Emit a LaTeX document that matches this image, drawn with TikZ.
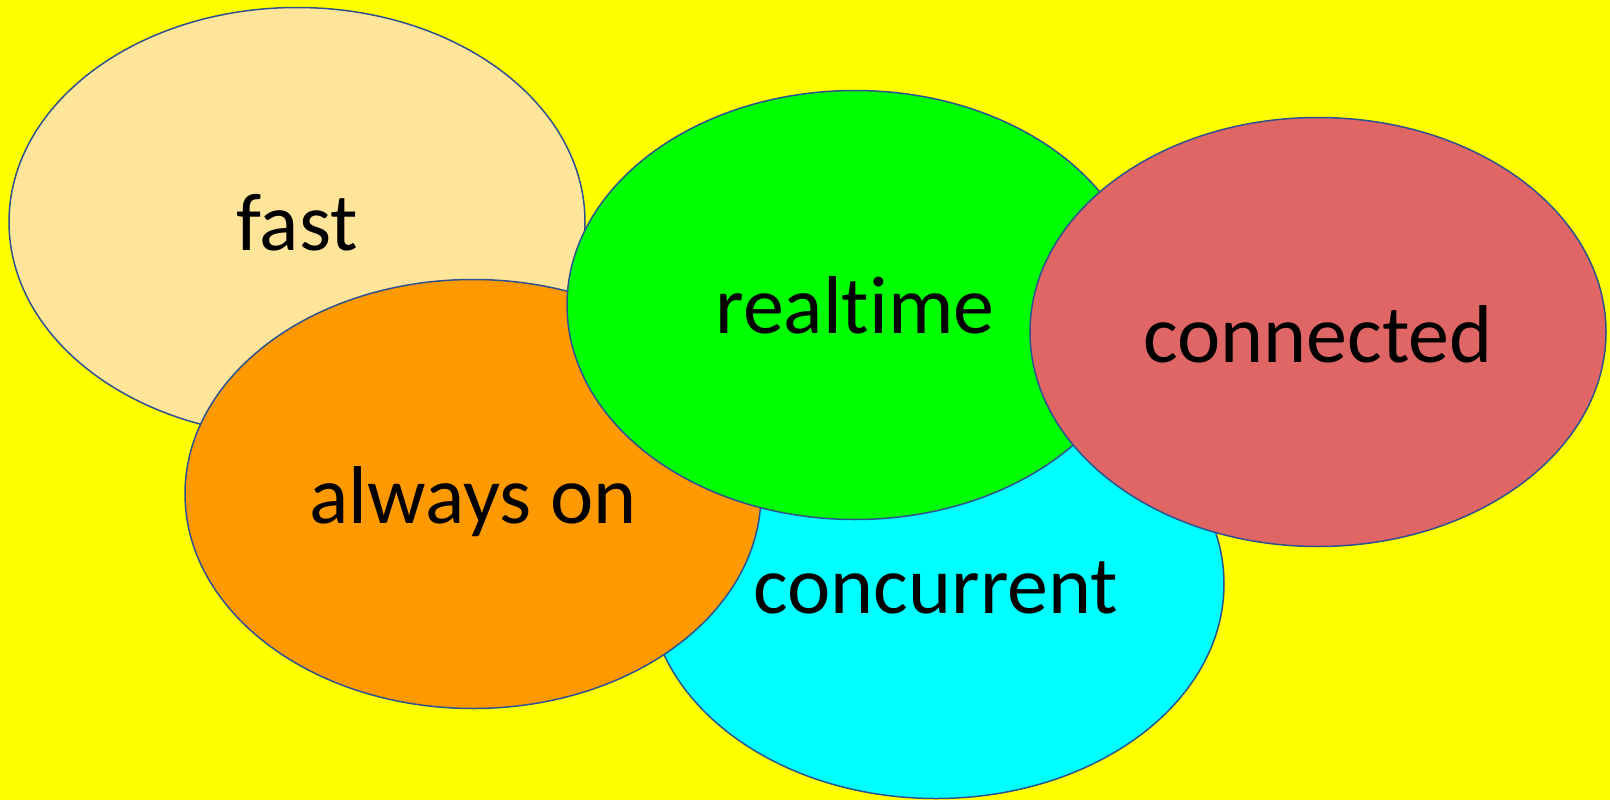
\documentclass[tikz,border=0pt]{standalone}
\usepackage{fontspec}
\setmainfont[Ligatures={NoCommon,NoRare}]{Carlito}
\usetikzlibrary{shapes.geometric}
\definecolor{bg}{RGB}{255,255,0}
\definecolor{rim}{RGB}{47,82,143}
\definecolor{cfast}{RGB}{255,229,153}
\definecolor{calways}{RGB}{255,153,0}
\definecolor{creal}{RGB}{0,255,0}
\definecolor{cconn}{RGB}{224,102,102}
\definecolor{cconc}{RGB}{0,255,255}
\tikzset{
  blob/.style={ellipse, draw=rim, line width=1.5pt, minimum width=576pt, minimum height=429pt, inner sep=0pt},
  word/.style={anchor=base, inner sep=0pt, font=\fontsize{82}{98}\selectfont, text=black}
}
\begin{document}
\begin{tikzpicture}[x=1pt,y=-1pt]
\path[fill=bg,use as bounding box] (0,0) rectangle (1610,800);
\node[blob, fill=cfast] (fast) at (297,222) {};
\node[blob, fill=cconc] (conc) at (936,584) {};
\node[blob, fill=calways] (always) at (473,494) {};
\node[blob, fill=creal] (real) at (855,305) {};
\node[blob, fill=cconn] (conn) at (1318,332) {};
\node[word] (tfast) at ([yshift=-28pt]fast.center) {fast};
\node[word] (tconc) at ([yshift=-29pt]conc.center) {concurrent};
\node[word] (talways) at ([yshift=-29pt]always.center) {always on};
\node[word] (treal) at ([yshift=-28pt]real.center) {realtime};
\node[word] (tconn) at ([yshift=-30pt]conn.center) {connected};
\end{tikzpicture}
\end{document}
